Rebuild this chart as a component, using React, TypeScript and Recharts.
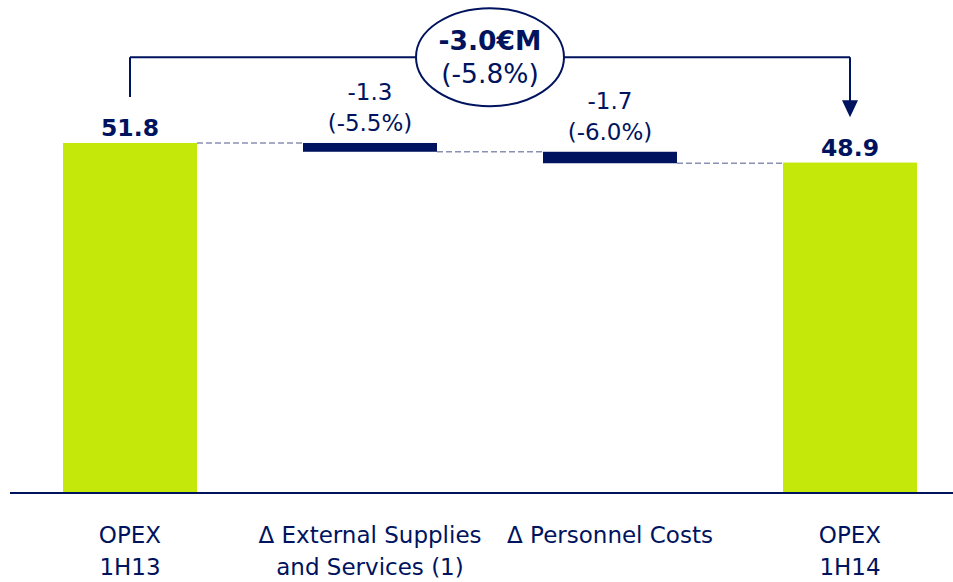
import React from 'react';
import {
  BarChart,
  Bar,
  XAxis,
  YAxis,
  LabelList,
  ReferenceLine,
} from 'recharts';

// OPEX bridge 1H13 -> 1H14 (€M)
const categories = [
  'OPEX\n1H13',
  'Δ External Supplies\nand Services (1)',
  'Δ Personnel Costs',
  'OPEX\n1H14',
];
const values = [51.8, -1.3, -1.7, 48.9];
const valueLabels = ['51.8', '-1.3', '-1.7', '48.9'];
const pctLabels = ['', '(-5.5%)', '(-6.0%)', ''];
const totalChange = '-3.0€M';
const totalChangePct = '(-5.8%)';

// bracket annotation levels (value units)
const bracketTop = 64.5;
const bracketLeftEnd = 58.6;
const bracketArrowTip = 55.6;

const NAVY = '#00135E';
const GREEN = '#C5E80B';
const DASH = '#8A90B4';
const FONT = '"DejaVu Sans", Verdana, sans-serif';

const CHART_W = 970;
const CHART_H = 582;
const MARGIN = { top: 20, right: 0, bottom: 0, left: 10 };
const BAND = (CHART_W - MARGIN.left - MARGIN.right) / categories.length;
const BAR_SIZE = 134;

const isTotal = (i: number) => i === 0 || i === values.length - 1;

// build waterfall rows: invisible base + visible amount
let running = 0;
const data = categories.map((name, i) => {
  if (isTotal(i)) {
    running = values[i];
    return { name, base: 0, amount: values[i], end: values[i] };
  }
  const start = running;
  running = start + values[i];
  return { name, base: running, amount: -values[i], end: running };
});

const WaterfallBar = (props: any) => {
  const { x, y, width, height, index } = props;
  const total = isTotal(index);
  const level = total ? y : y + height;
  return (
    <g>
      <rect x={x} y={y} width={width} height={height} fill={total ? GREEN : NAVY} />
      {index < values.length - 1 && (
        <line
          x1={x + width}
          x2={x + width + (BAND - width)}
          y1={level}
          y2={level}
          stroke={DASH}
          strokeWidth={1.3}
          strokeDasharray="6 3"
        />
      )}
    </g>
  );
};

const BarLabel = (props: any) => {
  const { x, y, width, index } = props;
  const cx = x + width / 2;
  if (isTotal(index)) {
    return (
      <text x={cx} y={y - 7} textAnchor="middle" fill={NAVY} fontFamily={FONT}
        fontSize={23.5} fontWeight="bold">
        {valueLabels[index]}
      </text>
    );
  }
  return (
    <g fill={NAVY} fontFamily={FONT} fontSize={23} textAnchor="middle">
      <text x={cx} y={y - 43}>{valueLabels[index]}</text>
      <text x={cx} y={y - 12}>{pctLabels[index]}</text>
    </g>
  );
};

const CategoryTick = (props: any) => {
  const { x, y, payload } = props;
  const lines = String(payload.value).split('\n');
  return (
    <g>
      {lines.map((l, i) => (
        <text key={i} x={x} y={y + 44 + i * 32} textAnchor="middle" fill={NAVY}
          fontFamily={FONT} fontSize={23}>
          {l}
        </text>
      ))}
    </g>
  );
};

const BracketTop = (props: any) => {
  const { x1, x2, y1 } = props;
  const cx = (x1 + x2) / 2;
  return (
    <g>
      <line x1={x1} x2={x2} y1={y1} y2={y1} stroke={NAVY} strokeWidth={2} />
      <ellipse cx={cx} cy={y1} rx={74} ry={49} fill="#fff" stroke={NAVY} strokeWidth={2} />
      <text x={cx} y={y1 - 7} textAnchor="middle" fill={NAVY} fontFamily={FONT}
        fontSize={26.5} fontWeight="bold">
        {totalChange}
      </text>
      <text x={cx} y={y1 + 26} textAnchor="middle" fill={NAVY} fontFamily={FONT}
        fontSize={26.5}>
        {totalChangePct}
      </text>
    </g>
  );
};

const ArrowLeg = (props: any) => {
  const { x1, y1, x2, y2 } = props;
  const tipY = Math.max(y1, y2);
  const topY = Math.min(y1, y2);
  return (
    <g>
      <line x1={x1} x2={x2} y1={topY} y2={tipY - 14} stroke={NAVY} strokeWidth={2} />
      <polygon
        points={`${x2 - 8},${tipY - 17} ${x2 + 8},${tipY - 17} ${x2},${tipY}`}
        fill={NAVY}
      />
    </g>
  );
};

export default function App() {
  return (
    <div
      style={{
        position: 'absolute',
        left: 0,
        top: 0,
        width: 953,
        height: CHART_H,
        overflow: 'hidden',
        background: '#fff',
      }}
    >
      <BarChart width={CHART_W} height={CHART_H} data={data} margin={MARGIN}>
        <XAxis
          dataKey="name"
          height={89}
          axisLine={{ stroke: NAVY, strokeWidth: 2 }}
          tickLine={false}
          tickMargin={0}
          interval={0}
          tick={<CategoryTick />}
        />
        <YAxis hide domain={[0, 70]} />
        <Bar dataKey="base" stackId="w" fill="transparent" barSize={BAR_SIZE}
          isAnimationActive={false} />
        <Bar dataKey="amount" stackId="w" barSize={BAR_SIZE} shape={<WaterfallBar />}
          isAnimationActive={false}>
          <LabelList dataKey="amount" content={<BarLabel />} />
        </Bar>
        <ReferenceLine
          segment={[
            { x: categories[0], y: bracketLeftEnd },
            { x: categories[0], y: bracketTop },
          ]}
          stroke={NAVY}
          strokeWidth={2}
        />
        <ReferenceLine
          segment={[
            { x: categories[3], y: bracketTop },
            { x: categories[3], y: bracketArrowTip },
          ]}
          shape={<ArrowLeg />}
        />
        <ReferenceLine
          segment={[
            { x: categories[0], y: bracketTop },
            { x: categories[3], y: bracketTop },
          ]}
          shape={<BracketTop />}
        />
      </BarChart>
    </div>
  );
}
